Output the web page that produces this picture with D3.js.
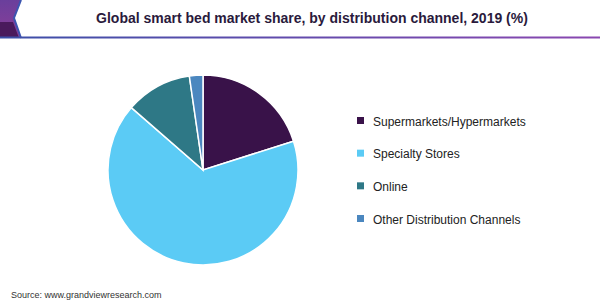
<!DOCTYPE html>
<html><head><meta charset="utf-8">
<script src="https://cdn.jsdelivr.net/npm/d3@7"></script>
<style>body{margin:0;background:#fff;}svg{display:block;font-family:Arial,"Liberation Sans",sans-serif;}</style>
</head><body>
<svg id="c" width="600" height="300"></svg>
<script>
const categories = ["Supermarkets/Hypermarkets","Specialty Stores","Online","Other Distribution Channels"];
const values = [20.1, 66.3, 11.3, 2.3];
const colors = ["#391249","#5bcbf5","#2e7886","#4b87bf"];
const title = "Global smart bed market share, by distribution channel, 2019 (%)";
const source = "Source: www.grandviewresearch.com";

const svg = d3.select("#c");
const defs = svg.append("defs");
const g1 = defs.append("linearGradient").attr("id","hl").attr("x1","0").attr("x2","1");
g1.append("stop").attr("offset","0").attr("stop-color","#3c4fa8");
g1.append("stop").attr("offset","1").attr("stop-color","#8a47b0");
const g2 = defs.append("linearGradient").attr("id","dec").attr("x1","0").attr("x2","0").attr("y1","0").attr("y2","1");
g2.append("stop").attr("offset","0").attr("stop-color","#6a3f9c");
g2.append("stop").attr("offset","1").attr("stop-color","#8b3e98");

// header decoration
svg.append("path").attr("d","M0,0 L21,0 L14,18 L21,38 L0,38 Z").attr("fill","url(#dec)");
svg.append("path").attr("d","M0,22 L13,22 L19,38 L0,38 Z").attr("fill","#4a1a5c");
svg.append("path").attr("d","M21,0 L14,18 L21,38").attr("fill","none").attr("stroke","#3c55b0").attr("stroke-width",2);
svg.append("rect").attr("x",0).attr("y",36.5).attr("width",600).attr("height",2).attr("fill","url(#hl)");

svg.append("text").attr("x",312).attr("y",23).attr("text-anchor","middle")
  .attr("font-size",14).attr("font-weight","bold").attr("fill","#2a1a3c").text(title);

// pie
const cx = 203, cy = 170, r = 95;
const pie = d3.pie().sort(null).value(d=>d);
const arc = d3.arc().innerRadius(0).outerRadius(r);
const pg = svg.append("g").attr("transform",`translate(${cx},${cy})`);
pg.selectAll("path").data(pie(values)).join("path")
  .attr("d",arc).attr("fill",(d,i)=>colors[i]).attr("stroke","#fff").attr("stroke-width",1.5);

// legend
const ly = d3.scalePoint().domain(categories).range([121,219]);
const lg = svg.append("g");
categories.forEach((c,i)=>{
  lg.append("rect").attr("x",357).attr("y",ly(c)-4).attr("width",7).attr("height",7).attr("fill",colors[i]);
  lg.append("text").attr("x",373).attr("y",ly(c)+4.5).attr("font-size",12).attr("fill","#222").text(c);
});

svg.append("text").attr("x",11).attr("y",298).attr("font-size",9).attr("fill","#333").text(source);
</script>
</body></html>
